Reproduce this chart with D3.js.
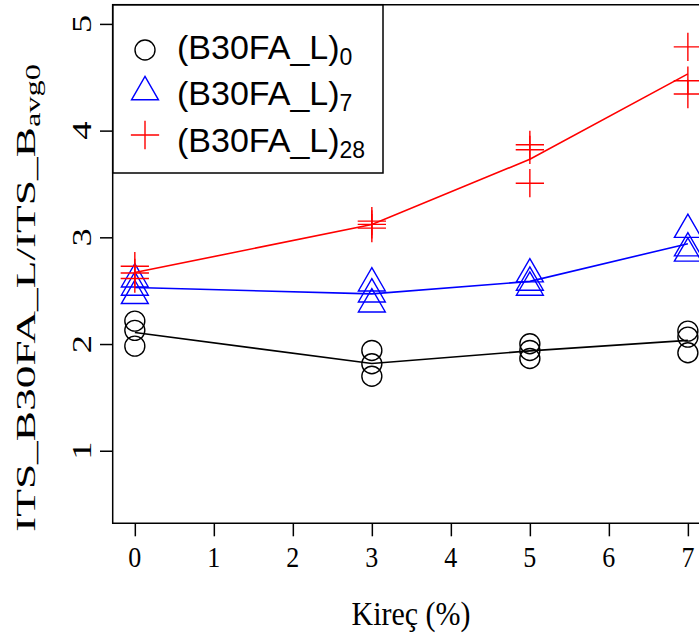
<!DOCTYPE html>
<html>
<head>
<meta charset="utf-8">
<script src="https://cdn.jsdelivr.net/npm/d3@7"></script>
<style>
html,body{margin:0;padding:0;background:#fff;}
svg{display:block;}
</style>
</head>
<body>
<svg id="chart" width="699" height="637"></svg>
<script>
// ---- data ----
const kirec = [0, 3, 5, 7];
const xTicks = [0, 1, 2, 3, 4, 5, 6, 7];
const yTicks = [1, 2, 3, 4, 5];
const seriesNames = ["(B30FA_L)", "(B30FA_L)", "(B30FA_L)"];
const seriesSubs = ["0", "7", "28"];
const seriesColors = ["#000000", "#0000FF", "#FF0000"];
const seriesShapes = ["circle", "triangle", "cross"];
const b30fa_0 = [[2.215, 2.128, 1.980], [1.940, 1.815, 1.698], [2.003, 1.940, 1.865], [2.121, 2.065, 1.918]];
const b30fa_7 = [[2.608, 2.530, 2.452], [2.570, 2.467, 2.373], [2.655, 2.577, 2.530], [3.072, 2.899, 2.850]];
const b30fa_28 = [[2.729, 2.666, 2.614], [3.152, 3.121, 3.086], [3.867, 3.820, 3.507], [4.785, 4.468, 4.343]];
const allSeries = [b30fa_0, b30fa_7, b30fa_28];

// ---- layout ----
const svg = d3.select("#chart");
const plot = {left: 112.7, top: 4.7, bottom: 523.3, right: 710};
const x = d3.scaleLinear().domain([-0.28, 7.28]).range([plot.left, plot.right]);
const y = d3.scaleLinear().domain([0.32, 5.18]).range([plot.bottom, plot.top]);
const R = 10; // symbol radius

function symbolPath(shape, cx, cy) {
  if (shape === "triangle") {
    const r = 1.5551 * R, xc = 1.3468 * R, yc = 0.7776 * R;
    return `M${cx},${cy - r}L${cx + xc},${cy + yc}L${cx - xc},${cy + yc}Z`;
  }
  const h = Math.SQRT2 * R;
  return `M${cx - h},${cy}H${cx + h}M${cx},${cy - h}V${cy + h}`;
}
function drawSymbol(g, shape, cx, cy, color) {
  if (shape === "circle") {
    g.append("circle").attr("cx", cx).attr("cy", cy).attr("r", R)
      .attr("fill", "none").attr("stroke", color).attr("stroke-width", 1.4);
  } else {
    g.append("path").attr("d", symbolPath(shape, cx, cy))
      .attr("fill", "none").attr("stroke", color).attr("stroke-width", 1.4);
  }
}

svg.append("clipPath").attr("id", "clip").append("rect")
  .attr("x", plot.left).attr("y", plot.top)
  .attr("width", plot.right - plot.left).attr("height", plot.bottom - plot.top);

const gData = svg.append("g").attr("clip-path", "url(#clip)");
allSeries.forEach((ser, si) => {
  const means = ser.map((vals, i) => ({x: kirec[i], y: d3.mean(vals)}));
  gData.append("path").datum(means)
    .attr("d", d3.line().x(d => x(d.x)).y(d => y(d.y)))
    .attr("fill", "none").attr("stroke", seriesColors[si]).attr("stroke-width", 1.6);
  ser.forEach((vals, i) => {
    vals.forEach(v => drawSymbol(gData, seriesShapes[si], x(kirec[i]), y(v), seriesColors[si]));
  });
});

// ---- box ----
svg.append("path")
  .attr("d", `M${plot.right},${plot.top}H${plot.left}V${plot.bottom}H${plot.right}`)
  .attr("fill", "none").attr("stroke", "#000").attr("stroke-width", 1.5);

// ---- axes ----
const xAxis = svg.append("g").attr("transform", `translate(0,${plot.bottom})`)
  .call(d3.axisBottom(x).tickValues(xTicks).tickSize(13).tickPadding(0).tickFormat(d3.format("d")));
xAxis.select(".domain").remove();
xAxis.selectAll("line").attr("stroke", "#000").attr("stroke-width", 1.5);
xAxis.selectAll("text").remove();
xTicks.forEach(t => {
  svg.append("text").attr("transform", `translate(${x(t)},567) scale(1,1.15)`)
    .attr("text-anchor", "middle").attr("font-family", "Liberation Serif")
    .attr("font-size", 26).attr("fill", "#000").text(t);
});

const yAxis = svg.append("g").attr("transform", `translate(${plot.left},0)`)
  .call(d3.axisLeft(y).tickValues(yTicks).tickSize(12.7).tickFormat(d3.format("d")));
yAxis.select(".domain").remove();
yAxis.selectAll("line").attr("stroke", "#000").attr("stroke-width", 1.5);
yAxis.selectAll("text").remove();
yTicks.forEach(t => {
  svg.append("text").attr("transform", `translate(91,${y(t)}) rotate(-90) scale(1.35,1)`)
    .attr("text-anchor", "middle").attr("font-family", "Liberation Serif")
    .attr("font-size", 27).attr("fill", "#000").text(t);
});

// axis titles
svg.append("text").attr("transform", `translate(411,625) scale(1,1.15)`)
  .attr("text-anchor", "middle").attr("font-family", "Liberation Serif")
  .attr("font-size", 30).attr("fill", "#000").text("Kireç (%)");

const yt = svg.append("text")
  .attr("transform", `translate(35,298) rotate(-90) scale(1.62,1)`)
  .attr("text-anchor", "middle").attr("font-family", "Liberation Serif")
  .attr("font-size", 28).attr("fill", "#000");
yt.append("tspan").text("ITS_B30FA_L/ITS_B");
yt.append("tspan").attr("font-size", 20).attr("dy", 5).text("avg0");

// ---- legend ----
const leg = {x0: plot.left, y0: plot.top, x1: 383, y1: 173};
svg.append("rect").attr("x", leg.x0).attr("y", leg.y0)
  .attr("width", leg.x1 - leg.x0).attr("height", leg.y1 - leg.y0)
  .attr("fill", "none").attr("stroke", "#000").attr("stroke-width", 1.5);
const legSymY = [50, 92, 135];
const legBase = [59, 105, 152];
seriesNames.forEach((nm, i) => {
  drawSymbol(svg, seriesShapes[i], 145, legSymY[i], seriesColors[i]);
  const t = svg.append("text").attr("x", 177).attr("y", legBase[i])
    .attr("font-family", "Liberation Sans").attr("font-size", 34).attr("fill", "#000");
  t.append("tspan").text(nm);
  t.append("tspan").attr("font-size", 23).attr("dy", 6).text(seriesSubs[i]);
});
</script>
</body>
</html>
